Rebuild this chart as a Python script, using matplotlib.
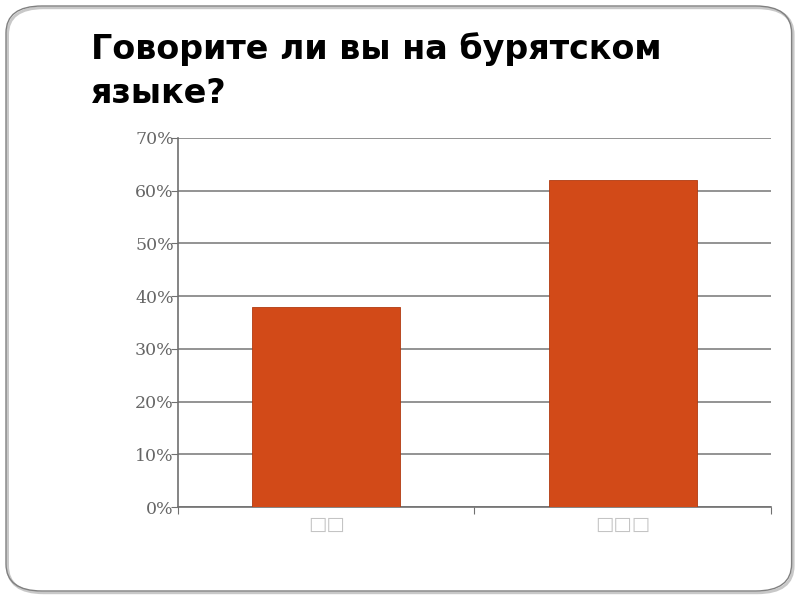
"""
Bar chart: Говорите ли вы на бурятском языке?
"""
import matplotlib
matplotlib.use("Agg")
import matplotlib.pyplot as plt
from matplotlib.patches import FancyBboxPatch
from matplotlib.ticker import FixedLocator, FuncFormatter

# data
categories = ["\u25a1\u25a1", "\u25a1\u25a1\u25a1"]
values = [38, 62]
yticks = [0, 10, 20, 30, 40, 50, 60, 70]
title_lines = ["Говорите ли вы на бурятском", "языке?"]

bar_color = "#D24A18"
grid_color = "#8a8a8a"
label_color = "#666666"

fig = plt.figure(figsize=(8, 6), dpi=100)
fig.patch.set_facecolor("white")

# slide frame with rounded corners and a soft shadow
shadow = FancyBboxPatch((0.0095, 0.012), 0.982, 0.975,
                        boxstyle="round,pad=0,rounding_size=0.045",
                        transform=fig.transFigure, facecolor="none",
                        edgecolor="#c8c8c8", linewidth=2.0, zorder=-2)
frame = FancyBboxPatch((0.0075, 0.015), 0.982, 0.975,
                       boxstyle="round,pad=0,rounding_size=0.045",
                       transform=fig.transFigure, facecolor="none",
                       edgecolor="#808080", linewidth=1.0, zorder=-1)
fig.patches.extend([shadow, frame])

for line, ypos in zip(title_lines, [0.902, 0.828]):
    fig.text(0.114, ypos, line, fontsize=24, fontweight="bold",
             family="DejaVu Sans", color="black", va="baseline")

ax = fig.add_axes([0.2225, 0.155, 0.741, 0.615])
x = list(range(len(categories)))
ax.bar(x, values, width=0.5, color=bar_color, edgecolor="#b03a10",
       linewidth=0.6, zorder=3)

ax.set_xlim(-0.5, len(categories) - 0.5)
ax.set_ylim(0, 70)
ax.yaxis.set_major_locator(FixedLocator(yticks))
ax.yaxis.set_major_formatter(FuncFormatter(lambda v, p: f"{v:.0f}%"))
ax.grid(axis="y", color=grid_color, linewidth=1.3, zorder=1)
ax.set_axisbelow(True)

ax.set_xticks([-0.5, 0.5, 1.5])
ax.set_xticklabels([])
ax.set_xticks(x, minor=True)
ax.set_xticklabels(categories, minor=True)
ax.tick_params(axis="x", which="minor", length=0, pad=6,
               labelsize=14, labelcolor="#c4c4c4")
ax.tick_params(axis="x", which="major", length=5, color="#707070")
ax.tick_params(axis="y", length=5, color="#707070", pad=-2,
               labelsize=12.5, labelcolor=label_color)
for lab in ax.get_yticklabels():
    lab.set_family("DejaVu Serif")

for side in ["top", "right"]:
    ax.spines[side].set_visible(False)
for side in ["left", "bottom"]:
    ax.spines[side].set_color("#707070")
    ax.spines[side].set_linewidth(1.2)

fig.savefig("out.png", dpi=100)
